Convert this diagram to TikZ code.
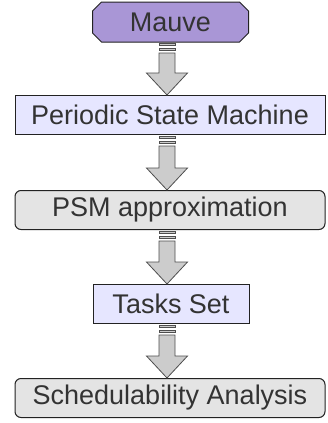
\documentclass[tikz,border=0pt]{standalone}
\usepackage{fontspec}
\setmainfont{Liberation Sans}
\usetikzlibrary{calc}
\definecolor{mauvefill}{HTML}{A996D6}
\definecolor{lavfill}{HTML}{E6E6FF}
\definecolor{grayfill}{HTML}{E4E4E4}
\definecolor{arrowfill}{HTML}{CCCCCC}
\definecolor{txt}{HTML}{333333}
\definecolor{edge}{HTML}{222222}
\tikzset{
  box/.style={draw=edge, line width=1pt, text=txt, minimum height=39pt, inner sep=0pt,
    font=\fontsize{27}{32}\selectfont, anchor=north},
  chambox/.style={box, rectangle, draw=none},
  chamedge/.style={draw=edge, line width=1pt, fill=mauvefill},
  lavbox/.style={box, rectangle, fill=lavfill},
  roundbox/.style={box, rectangle, rounded corners=6pt, fill=grayfill},
  bigarr/.style={draw=edge!80, line width=0.8pt, fill=arrowfill},
}
\newcommand\flowarrow[2]{%
  \path let \p1=(#1.south), \p2=(#2.north) in
    coordinate (s) at (170pt-3pt,\y1) coordinate (e) at (170pt-3pt,\y2);
  \draw[bigarr] ($(s)+(-8pt,-1pt)$) rectangle ($(s)+(8pt,-3pt)$);
  \draw[bigarr] ($(s)+(-8pt,-6pt)$) rectangle ($(s)+(8pt,-8pt)$);
  \draw[bigarr] ($(s)+(-8pt,-11pt)$) -- ($(e)+(-8pt,22pt)$) -- ($(e)+(-20.5pt,22pt)$) -- (e)
     -- ($(e)+(20.5pt,22pt)$) -- ($(e)+(8pt,22pt)$) -- ($(s)+(8pt,-11pt)$) -- cycle;
}
\begin{document}
\begin{tikzpicture}
\useasboundingbox[fill=white] (0,0) rectangle (327pt,-423pt);
\node[chambox, minimum width=155pt] (mauve) at (170.5pt,-2pt) {\phantom{Mauve}};
\begin{scope}[on background layer/.try]
\draw[chamedge] ($(mauve.north west)+(9pt,0)$) -- ($(mauve.north east)+(-9pt,0)$)
  -- ($(mauve.north east)+(0,-9pt)$) -- ($(mauve.south east)+(0,9pt)$)
  -- ($(mauve.south east)+(-9pt,0)$) -- ($(mauve.south west)+(9pt,0)$)
  -- ($(mauve.south west)+(0,9pt)$) -- ($(mauve.north west)+(0,-9pt)$) -- cycle;
\end{scope}
\node[text=txt, font=\fontsize{27}{32}\selectfont, inner sep=0pt] (mauvetext) at (mauve.center) {Mauve};
\node[lavbox, minimum width=310pt] (psm) at (170pt,-95pt) {Periodic State Machine};
\node[roundbox, minimum width=310pt] (approx) at (170pt,-190pt) {PSM approximation};
\node[lavbox, minimum width=156pt] (tasks) at (171pt,-284pt) {Tasks Set};
\node[roundbox, minimum width=310pt] (sched) at (170pt,-378pt) {Schedulability Analysis};
\flowarrow{mauve}{psm}
\flowarrow{psm}{approx}
\flowarrow{approx}{tasks}
\flowarrow{tasks}{sched}
\end{tikzpicture}
\end{document}
